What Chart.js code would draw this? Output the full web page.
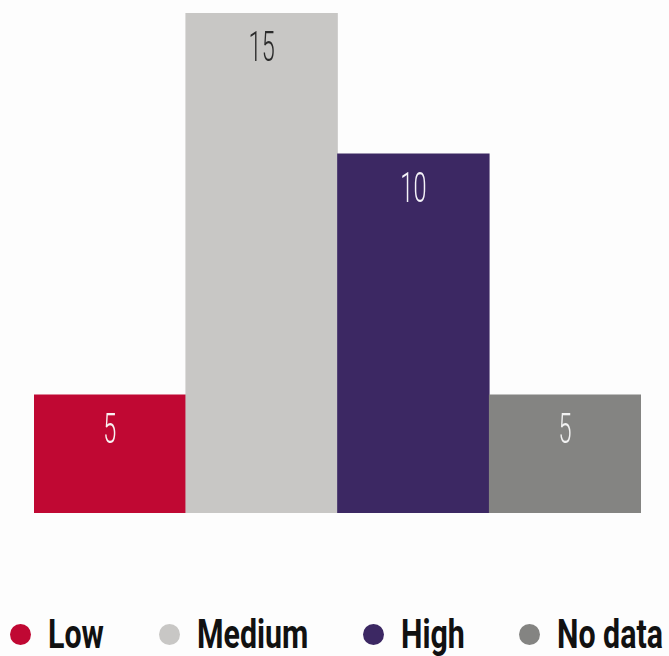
<!DOCTYPE html>
<html>
<head>
<meta charset="utf-8">
<script src="https://cdn.jsdelivr.net/npm/chart.js@4/dist/chart.umd.min.js"></script>
<style>
  html, body { margin: 0; padding: 0; background: #fdfdfd; }
  #wrap { position: relative; width: 669px; height: 656px; overflow: hidden; }
  #chart-box { width: 669px; height: 590px; }
  #legend {
    display: flex;
    justify-content: space-between;
    align-items: center;
    box-sizing: border-box;
    width: 669px;
    padding: 0 6px 0 10px;
    margin-top: 22px;
    font-family: Roboto, "DejaVu Sans", sans-serif;
    font-weight: bold;
    font-size: 41px;
    line-height: 44px;
    color: #111;
  }
  #legend .item { display: flex; align-items: center; white-space: nowrap; }
  #legend .dot { width: 21px; height: 21px; border-radius: 50%; margin-right: 17px; flex: none; }
  #legend .txt { display: inline-block; transform-origin: 0 50%; }
</style>
</head>
<body>
<div id="wrap">
  <div id="chart-box"><canvas id="riskChart" width="669" height="590"></canvas></div>
  <div id="legend"></div>
</div>
<script>
// categories and counts
const categories = ['Low', 'Medium', 'High', 'No data'];
const counts = [5, 15, 10, 5];
const barColors = ['#c00833', '#c8c7c5', '#3c2863', '#848482'];
const valueColors = ['#f8f2f2', '#2b2b2b', '#f4f2f8', '#f2f2f2'];

// value text inside each bar, narrow light digits
const barValues = {
  id: 'barValues',
  afterDatasetsDraw(chart) {
    const ctx = chart.ctx;
    const meta = chart.getDatasetMeta(0);
    meta.data.forEach((bar, i) => {
      ctx.save();
      ctx.translate(bar.x, bar.y + 48);
      ctx.scale(0.56, 1);
      ctx.font = '300 42px Roboto, "Open Sans", sans-serif';
      ctx.textAlign = 'center';
      ctx.textBaseline = 'alphabetic';
      ctx.fillStyle = valueColors[i];
      ctx.fillText(String(chart.data.datasets[0].data[i]), 0, 0);
      ctx.restore();
    });
  }
};

const chart = new Chart(document.getElementById('riskChart'), {
  type: 'bar',
  data: {
    labels: categories,
    datasets: [{
      data: counts,
      backgroundColor: barColors,
      borderWidth: 0,
      categoryPercentage: 1,
      barPercentage: 1
    }]
  },
  options: {
    responsive: false,
    animation: false,
    layout: { padding: { top: 13, bottom: 77, left: 34, right: 28 } },
    scales: {
      x: { display: false },
      y: { type: 'logarithmic', min: 3.56, max: 15, display: false }
    },
    plugins: {
      legend: { display: false },
      tooltip: { enabled: false }
    }
  },
  plugins: [barValues]
});

// html legend built from the chart data, text squeezed to a condensed look
const squeeze = 0.74;
const legendEl = document.getElementById('legend');
chart.data.labels.forEach((label, i) => {
  const item = document.createElement('div');
  item.className = 'item';
  const dot = document.createElement('span');
  dot.className = 'dot';
  dot.style.background = chart.data.datasets[0].backgroundColor[i];
  const txt = document.createElement('span');
  txt.className = 'txt';
  txt.textContent = label;
  item.appendChild(dot);
  item.appendChild(txt);
  legendEl.appendChild(item);
  const w = txt.getBoundingClientRect().width;
  txt.style.transform = `scaleX(${squeeze})`;
  txt.style.marginRight = `${-(1 - squeeze) * w}px`;
});
</script>
</body>
</html>
